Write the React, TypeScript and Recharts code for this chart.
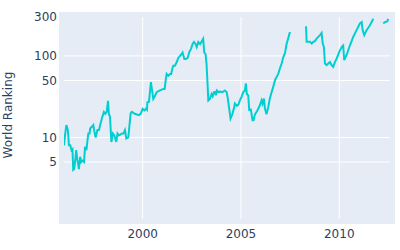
import React from "react";
import { LineChart, Line, XAxis, YAxis, CartesianGrid } from "recharts";

const years: number[] = [
  1996.0, 1996.06, 1996.12, 1996.2, 1996.25, 1996.32, 1996.38, 1996.43, 1996.47, 1996.52,
  1996.58, 1996.62, 1996.68, 1996.76, 1996.82, 1996.88, 1996.95, 1997.02, 1997.07, 1997.14,
  1997.2, 1997.24, 1997.3, 1997.33, 1997.4, 1997.49, 1997.55, 1997.61, 1997.7, 1997.78,
  1997.86, 1997.95, 1998.03, 1998.1, 1998.17, 1998.24, 1998.28, 1998.34, 1998.41, 1998.48,
  1998.56, 1998.66, 1998.72, 1998.8, 1998.95, 1999.03, 1999.1, 1999.17, 1999.27, 1999.39,
  1999.45, 1999.6, 1999.81, 1999.9, 2000.0, 2000.1, 2000.18, 2000.22, 2000.24, 2000.32,
  2000.37, 2000.42, 2000.48, 2000.54, 2000.62, 2000.71, 2000.88, 2001.05, 2001.12, 2001.17,
  2001.22, 2001.3, 2001.39, 2001.45, 2001.51, 2001.56, 2001.64, 2001.73, 2001.81, 2001.9,
  2001.98, 2002.03, 2002.12, 2002.2, 2002.29, 2002.37, 2002.46, 2002.54, 2002.61, 2002.69,
  2002.75, 2002.83, 2002.92, 2003.0, 2003.08, 2003.13, 2003.2, 2003.25, 2003.3, 2003.34,
  2003.42, 2003.51, 2003.56, 2003.63, 2003.68, 2003.73, 2003.78, 2003.86, 2003.95, 2004.03,
  2004.1, 2004.18, 2004.27, 2004.33, 2004.39, 2004.47, 2004.56, 2004.64, 2004.69, 2004.78,
  2004.86, 2004.95, 2005.03, 2005.12, 2005.2, 2005.25, 2005.3, 2005.37, 2005.42, 2005.5,
  2005.59, 2005.64, 2005.71, 2005.76, 2005.85, 2005.96, 2006.05, 2006.1, 2006.17, 2006.22,
  2006.3, 2006.39, 2006.47, 2006.56, 2006.64, 2006.73, 2006.81, 2006.9, 2006.98, 2007.07,
  2007.15, 2007.24, 2007.32, 2007.4, 2007.49, 2007.9,
  2008.31, 2008.34, 2008.42, 2008.51, 2008.6, 2008.68, 2008.76, 2008.85, 2008.93, 2009.02,
  2009.1, 2009.16, 2009.22, 2009.27, 2009.36, 2009.44, 2009.53, 2009.61, 2009.69, 2009.78,
  2009.87, 2010.0, 2010.12, 2010.2, 2010.25, 2010.38, 2010.54, 2010.71, 2010.88, 2011.05,
  2011.14, 2011.19, 2011.27, 2011.39, 2011.56, 2011.73, 2012.0,
  2012.24, 2012.32, 2012.44, 2012.49,
];

const ranks: (number | null)[] = [
  8.0, 11, 14.2, 12.3, 8.0, 8.0, 7.0, 7.2, 4.0, 4.1,
  5.5, 7.0, 5.3, 4.1, 5.8, 5.0, 5.2, 5.0, 7.7, 7.0,
  9.5, 11.2, 11.2, 12.9, 13.4, 14.2, 11.7, 10.0, 12.3, 12.3,
  14.8, 17.9, 20.6, 19.5, 20.6, 28.1, 19.5, 17.9, 8.8, 11.2,
  10.6, 8.8, 11.2, 10.6, 11.2, 11.2, 12.3, 9.7, 10.0, 19.7,
  20.6, 19.5, 18.8, 19.5, 22.4, 21.5, 22.7, 22, 27, 27.3,
  35.9, 47.6, 37.7, 29.7, 32, 35.9, 37.7, 39.4, 39.4, 50,
  60.2, 57, 60, 60, 69.4, 76, 76, 83.6, 94.5, 100,
  105, 110, 91.6, 91.6, 94.5, 111, 122, 140, 148, 140,
  128, 148, 140, 150, 162, 111, 105, 79.5, 45.5, 28.4,
  29.7, 34.2, 32, 36, 36.2, 33, 37.7, 36, 36.5, 36,
  36.5, 37.7, 36, 30.2, 23.7, 17.1, 19.2, 22.6, 26, 24.5,
  25, 28.6, 31.5, 36, 37.7, 45.9, 34, 33, 21.7, 22,
  16.3, 16.3, 19.2, 20, 21.7, 24.8, 28.6, 26, 30, 22.6,
  19.2, 23.7, 30, 36, 41.7, 50.4, 55, 60.7, 70, 80.6,
  96, 108, 140, 163, 196, null,
  231, 149, 149, 149, 142, 149, 152, 163, 171, 180,
  191, 142, 128, 80.6, 77, 80.6, 84, 77, 73.5, 84,
  93, 112, 128, 134, 88.6, 104, 134, 171, 207, 250,
  260, 207, 180, 207, 237, 285, null,
  250, 260, 265, 285,
];

const xTicks: number[] = [2000, 2005, 2010];
const yTicks: number[] = [5, 10, 50, 100, 300];
const gridY: number[] = [5, 10, 50, 100];

const data = years.map((y, i) => ({ year: y, rank: ranks[i] }));

const tickStyle = { fill: "#2a3f5f", fontSize: 12, fontFamily: "DejaVu Sans" };

export default function App() {
  return (
    <div style={{ position: "absolute", left: 0, top: 0, width: 400, height: 250, background: "#fff" }}>
      <div
        style={{
          position: "absolute",
          left: 59,
          top: 12,
          width: 336,
          height: 212,
          background: "#E5ECF6",
        }}
      />
      <div style={{ position: "absolute", left: 0, top: 0 }}>
        <LineChart
          width={400}
          height={250}
          data={data}
          margin={{ top: 17, right: 10, bottom: 0, left: 0 }}
        >
          <CartesianGrid
            stroke="#ffffff"
            strokeWidth={1}
            horizontalValues={gridY}
            verticalValues={xTicks}
          />
          <XAxis
            dataKey="year"
            type="number"
            domain={[1996.0, 2012.58]}
            ticks={xTicks}
            allowDataOverflow
            axisLine={false}
            tickLine={false}
            tickSize={0}
            tickMargin={10}
            height={31}
            tick={tickStyle}
          />
          <YAxis
            type="number"
            scale="log"
            domain={[1, 300]}
            ticks={yTicks}
            allowDataOverflow
            axisLine={false}
            tickLine={false}
            tickSize={0}
            tickMargin={7}
            width={64}
            tick={tickStyle}
            label={{
              value: "World Ranking",
              angle: -90,
              position: "center",
              dx: -24,
              dy: -3,
              style: { fill: "#2a3f5f", fontSize: 12, fontFamily: "DejaVu Sans" },
            }}
          />
          <Line
            type="linear"
            dataKey="rank"
            stroke="#00CED1"
            strokeWidth={2}
            dot={false}
            connectNulls={false}
            isAnimationActive={false}
          />
        </LineChart>
      </div>
    </div>
  );
}
